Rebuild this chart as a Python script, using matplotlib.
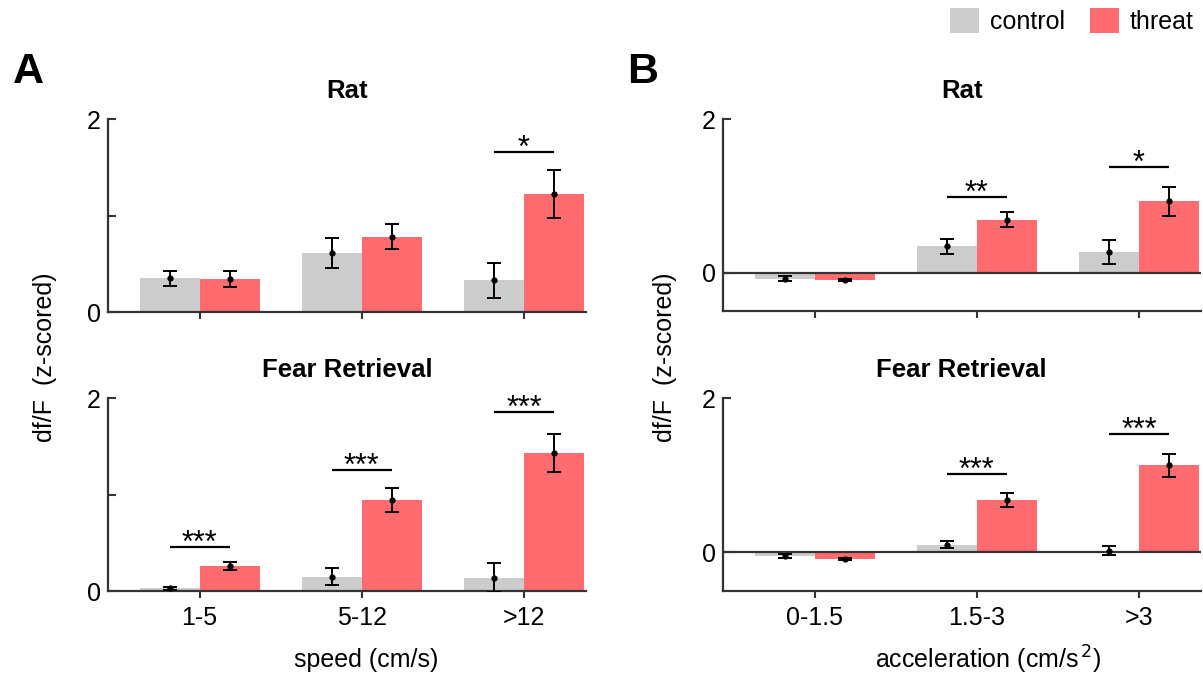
import matplotlib
matplotlib.use("Agg")
import matplotlib.pyplot as plt
from matplotlib.patches import Patch
import numpy as np

plt.rcParams['font.family'] = ['Liberation Sans', 'DejaVu Sans']

# ---- data ----
speed_bins = ['1-5', '5-12', '>12']
accel_bins = ['0-1.5', '1.5-3', '>3']

speed_rat_control = [0.35, 0.61, 0.33]
speed_rat_control_err = [0.08, 0.155, 0.18]
speed_rat_threat = [0.34, 0.78, 1.22]
speed_rat_threat_err = [0.08, 0.13, 0.25]

speed_fear_control = [0.03, 0.15, 0.14]
speed_fear_control_err = [0.015, 0.09, 0.15]
speed_fear_threat = [0.26, 0.945, 1.43]
speed_fear_threat_err = [0.04, 0.12, 0.20]

accel_rat_control = [-0.08, 0.34, 0.27]
accel_rat_control_err = [0.03, 0.10, 0.16]
accel_rat_threat = [-0.10, 0.69, 0.93]
accel_rat_threat_err = [0.015, 0.10, 0.19]

accel_fear_control = [-0.05, 0.10, 0.02]
accel_fear_control_err = [0.03, 0.04, 0.06]
accel_fear_threat = [-0.09, 0.68, 1.13]
accel_fear_threat_err = [0.015, 0.095, 0.15]

# significance bars: (height, label) per bin, None = no bar
speed_rat_sig = [None, None, (1.66, '*')]
speed_fear_sig = [(0.46, '***'), (1.26, '***'), (1.86, '***')]
accel_rat_sig = [None, (0.99, '**'), (1.38, '*')]
accel_fear_sig = [None, (1.02, '***'), (1.54, '***')]

C_CONTROL = '#cccccc'
C_THREAT = '#ff6b6e'
SPINE = '#333333'
W = 0.37

fig = plt.figure(figsize=(12.03, 6.79), dpi=100)


def panel(rect, labels, ctrl, ctrl_err, thr, thr_err, sig, title, accel, show_x):
    ax = fig.add_axes(rect)
    x = np.arange(len(labels))
    ax.bar(x - W / 2, ctrl, W, color=C_CONTROL, zorder=1)
    ax.bar(x + W / 2, thr, W, color=C_THREAT, zorder=1)
    ekw = dict(fmt='o', color='black', ms=3.5, elinewidth=1.4,
               capsize=4.8, capthick=1.4, zorder=3)
    ax.errorbar(x - W / 2, ctrl, yerr=ctrl_err, **ekw)
    ax.errorbar(x + W / 2, thr, yerr=thr_err, **ekw)

    for xi, s in zip(x, sig):
        if s is None:
            continue
        h, lab = s
        ax.plot([xi - W / 2, xi + W / 2], [h, h], color='black', lw=1.6,
                solid_capstyle='butt', zorder=3)
        ax.annotate(lab, (xi, h), xytext=(0, 2), textcoords='offset points',
                    ha='center', va='center', fontsize=22)

    ax.set_xlim(-0.565, 2 + W + 0.01)
    ax.set_xticks(x)
    ax.set_xticklabels(labels if show_x else [])
    ax.tick_params(axis='x', direction='out', length=5, width=1.5,
                   color=SPINE, labelsize=18, pad=6)
    ax.tick_params(axis='y', direction='in', length=6, width=1.5,
                   color=SPINE, labelsize=18, pad=5)
    if accel:
        ax.set_ylim(-0.5, 2)
        ax.set_yticks([0, 2])
        ax.axhline(0, color=SPINE, lw=1.6, zorder=2)
    else:
        ax.set_ylim(0, 2)
        ax.set_yticks([0, 1, 2])
        ax.set_yticklabels(['0', '', '2'])
    for side in ['top', 'right']:
        ax.spines[side].set_visible(False)
    for side in ['left', 'bottom']:
        ax.spines[side].set_color(SPINE)
        ax.spines[side].set_linewidth(1.6)
    ax.set_title(title, fontsize=18.5, fontweight='bold', pad=15)
    return ax


panel([0.0898, 0.5405, 0.397, 0.2842], speed_bins,
      speed_rat_control, speed_rat_control_err,
      speed_rat_threat, speed_rat_threat_err, speed_rat_sig, 'Rat', False, False)
panel([0.0898, 0.1296, 0.397, 0.2838], speed_bins,
      speed_fear_control, speed_fear_control_err,
      speed_fear_threat, speed_fear_threat_err, speed_fear_sig,
      'Fear Retrieval', False, True)
panel([0.601, 0.542, 0.397, 0.2827], accel_bins,
      accel_rat_control, accel_rat_control_err,
      accel_rat_threat, accel_rat_threat_err, accel_rat_sig, 'Rat', True, False)
panel([0.601, 0.130, 0.397, 0.2834], accel_bins,
      accel_fear_control, accel_fear_control_err,
      accel_fear_threat, accel_fear_threat_err, accel_fear_sig,
      'Fear Retrieval', True, True)

# panel letters, shared labels
fig.text(13 / 1203, 1 - 83 / 679, 'A', fontsize=31, fontweight='bold',
         ha='left', va='baseline')
fig.text(627 / 1203, 1 - 83 / 679, 'B', fontsize=31, fontweight='bold',
         ha='left', va='baseline')
fig.text(45 / 1203, 1 - 357 / 679, 'df/F  (z-scored)', rotation=90,
         fontsize=18, ha='center', va='center')
fig.text(665 / 1203, 1 - 357 / 679, 'df/F  (z-scored)', rotation=90,
         fontsize=18, ha='center', va='center')
fig.text(366 / 1203, 1 - 660 / 679, 'speed (cm/s)', fontsize=18,
         ha='center', va='center')
fig.text(988 / 1203, 1 - 660 / 679, 'acceleration (cm/s$^{\\,2}$)', fontsize=18,
         ha='center', va='center')

handles = [Patch(facecolor=C_CONTROL, label='control'),
           Patch(facecolor=C_THREAT, label='threat')]
fig.legend(handles=handles, loc='upper right', ncol=2, frameon=False,
           fontsize=18, handlelength=1.15, handleheight=1.15,
           handletextpad=0.45, columnspacing=1.0, borderpad=0,
           borderaxespad=0, bbox_to_anchor=(1194 / 1203, 1 - 8 / 679))

fig.savefig('out.png', dpi=100)
